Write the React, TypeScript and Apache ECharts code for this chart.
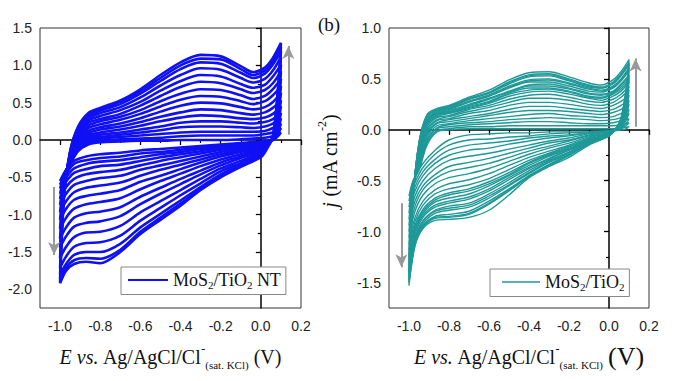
import React, { useEffect, useRef } from "react";
import * as echarts from "echarts";

// potentials (V) of the anodic (forward) and cathodic (reverse) sweep
const potAnodic = [-1.0, -0.98, -0.95, -0.91, -0.86, -0.8, -0.7, -0.6, -0.5, -0.4, -0.3, -0.2, -0.1, -0.04, 0.02, 0.06, 0.1];
const potCathodic = [0.1, 0.085, 0.06, 0.03, 0.0, -0.1, -0.2, -0.3, -0.4, -0.5, -0.6, -0.7, -0.8, -0.87, -0.93, -0.97, -1.0];

// MoS2/TiO2 NT: current density (mA cm-2) of successive cycles
const ntAnodic = [
  [-0.55, -0.45, -0.32, -0.15, -0.06, -0.03, -0.02, -0.01, -0.01, 0.0, 0.0, 0.0, 0.01, 0.02, 0.03, 0.05, 0.1],
  [-0.6, -0.47, -0.31, -0.13, -0.04, -0.01, 0.01, 0.02, 0.03, 0.05, 0.06, 0.06, 0.06, 0.06, 0.08, 0.1, 0.16],
  [-0.65, -0.48, -0.3, -0.12, -0.02, 0.02, 0.04, 0.06, 0.08, 0.1, 0.11, 0.11, 0.11, 0.11, 0.12, 0.16, 0.22],
  [-0.72, -0.5, -0.29, -0.1, 0.01, 0.04, 0.07, 0.1, 0.13, 0.17, 0.18, 0.18, 0.17, 0.16, 0.18, 0.22, 0.29],
  [-0.79, -0.52, -0.28, -0.08, 0.03, 0.07, 0.1, 0.14, 0.18, 0.23, 0.25, 0.25, 0.23, 0.22, 0.24, 0.28, 0.36],
  [-0.87, -0.54, -0.27, -0.05, 0.06, 0.1, 0.14, 0.19, 0.25, 0.3, 0.33, 0.32, 0.29, 0.28, 0.3, 0.35, 0.45],
  [-0.97, -0.56, -0.26, -0.03, 0.09, 0.14, 0.18, 0.24, 0.31, 0.37, 0.41, 0.4, 0.36, 0.34, 0.37, 0.43, 0.53],
  [-1.07, -0.58, -0.25, 0.0, 0.12, 0.17, 0.22, 0.29, 0.38, 0.46, 0.5, 0.49, 0.44, 0.41, 0.44, 0.51, 0.63],
  [-1.19, -0.61, -0.23, 0.02, 0.16, 0.21, 0.27, 0.35, 0.45, 0.54, 0.59, 0.58, 0.52, 0.48, 0.52, 0.6, 0.72],
  [-1.32, -0.63, -0.22, 0.05, 0.19, 0.25, 0.31, 0.4, 0.52, 0.62, 0.68, 0.67, 0.6, 0.55, 0.59, 0.68, 0.82],
  [-1.44, -0.65, -0.2, 0.07, 0.23, 0.28, 0.35, 0.46, 0.59, 0.71, 0.78, 0.76, 0.68, 0.63, 0.67, 0.76, 0.92],
  [-1.58, -0.68, -0.19, 0.1, 0.26, 0.32, 0.4, 0.51, 0.66, 0.79, 0.87, 0.85, 0.75, 0.7, 0.74, 0.85, 1.01],
  [-1.71, -0.7, -0.18, 0.13, 0.29, 0.36, 0.44, 0.57, 0.73, 0.87, 0.96, 0.94, 0.83, 0.77, 0.82, 0.93, 1.11],
  [-1.8, -0.72, -0.17, 0.15, 0.32, 0.39, 0.48, 0.62, 0.79, 0.95, 1.04, 1.02, 0.9, 0.83, 0.89, 1.01, 1.19],
  [-1.87, -0.74, -0.16, 0.17, 0.34, 0.41, 0.51, 0.65, 0.83, 1.0, 1.09, 1.08, 0.95, 0.87, 0.93, 1.06, 1.25],
  [-1.92, -0.75, -0.15, 0.18, 0.36, 0.43, 0.53, 0.68, 0.87, 1.04, 1.14, 1.12, 0.99, 0.91, 0.97, 1.1, 1.3],
];
const ntCathodic = [
  [0.1, 0.05, 0.0, -0.01, -0.02, -0.04, -0.06, -0.08, -0.1, -0.12, -0.14, -0.17, -0.19, -0.22, -0.28, -0.4, -0.55],
  [0.16, 0.08, 0.0, -0.02, -0.03, -0.05, -0.07, -0.1, -0.13, -0.16, -0.18, -0.22, -0.24, -0.27, -0.32, -0.45, -0.6],
  [0.22, 0.11, 0.01, -0.02, -0.04, -0.06, -0.09, -0.12, -0.16, -0.19, -0.23, -0.27, -0.29, -0.32, -0.38, -0.5, -0.65],
  [0.29, 0.14, 0.01, -0.02, -0.05, -0.08, -0.11, -0.15, -0.19, -0.23, -0.28, -0.33, -0.35, -0.39, -0.44, -0.56, -0.72],
  [0.36, 0.18, 0.01, -0.03, -0.06, -0.1, -0.13, -0.18, -0.23, -0.28, -0.34, -0.4, -0.43, -0.46, -0.52, -0.63, -0.79],
  [0.45, 0.22, 0.02, -0.03, -0.07, -0.12, -0.16, -0.22, -0.28, -0.34, -0.4, -0.48, -0.51, -0.55, -0.6, -0.72, -0.87],
  [0.53, 0.26, 0.02, -0.04, -0.08, -0.14, -0.19, -0.26, -0.33, -0.4, -0.48, -0.57, -0.61, -0.64, -0.7, -0.82, -0.97],
  [0.63, 0.31, 0.02, -0.05, -0.09, -0.16, -0.22, -0.3, -0.39, -0.48, -0.56, -0.67, -0.72, -0.75, -0.8, -0.92, -1.07],
  [0.72, 0.36, 0.03, -0.05, -0.11, -0.19, -0.26, -0.35, -0.45, -0.55, -0.66, -0.78, -0.83, -0.86, -0.92, -1.04, -1.19],
  [0.82, 0.41, 0.03, -0.06, -0.13, -0.22, -0.3, -0.41, -0.52, -0.64, -0.76, -0.9, -0.96, -0.98, -1.04, -1.17, -1.32],
  [0.92, 0.46, 0.03, -0.07, -0.14, -0.24, -0.34, -0.46, -0.59, -0.72, -0.86, -1.02, -1.09, -1.11, -1.16, -1.29, -1.44],
  [1.01, 0.5, 0.03, -0.08, -0.16, -0.28, -0.38, -0.52, -0.67, -0.82, -0.97, -1.15, -1.23, -1.24, -1.3, -1.43, -1.58],
  [1.11, 0.56, 0.04, -0.09, -0.18, -0.31, -0.42, -0.58, -0.74, -0.91, -1.08, -1.28, -1.37, -1.38, -1.43, -1.56, -1.71],
  [1.19, 0.6, 0.04, -0.1, -0.2, -0.33, -0.46, -0.63, -0.81, -0.99, -1.17, -1.39, -1.5, -1.5, -1.54, -1.66, -1.8],
  [1.25, 0.64, 0.04, -0.1, -0.21, -0.35, -0.48, -0.66, -0.85, -1.04, -1.23, -1.47, -1.59, -1.58, -1.61, -1.71, -1.87],
  [1.3, 0.68, 0.05, -0.12, -0.23, -0.36, -0.5, -0.67, -0.88, -1.07, -1.26, -1.5, -1.65, -1.63, -1.66, -1.75, -1.92],
];

// MoS2/TiO2: current density (mA cm-2) of successive cycles
const tiAnodic = [
  [-0.65, -0.5, -0.4, -0.15, -0.02, 0.0, 0.01, 0.01, 0.01, 0.01, 0.01, 0.01, 0.01, 0.01, 0.01, 0.02, 0.03],
  [-0.7, -0.51, -0.38, -0.13, -0.01, 0.01, 0.03, 0.03, 0.04, 0.04, 0.04, 0.04, 0.04, 0.04, 0.04, 0.05, 0.07],
  [-0.76, -0.52, -0.37, -0.11, 0.01, 0.03, 0.05, 0.06, 0.07, 0.08, 0.08, 0.07, 0.06, 0.06, 0.07, 0.09, 0.11],
  [-0.82, -0.53, -0.35, -0.09, 0.02, 0.05, 0.07, 0.08, 0.1, 0.11, 0.12, 0.11, 0.1, 0.09, 0.1, 0.12, 0.16],
  [-0.88, -0.55, -0.33, -0.07, 0.04, 0.06, 0.09, 0.11, 0.13, 0.15, 0.16, 0.14, 0.13, 0.12, 0.13, 0.16, 0.2],
  [-0.94, -0.56, -0.31, -0.05, 0.06, 0.08, 0.11, 0.14, 0.17, 0.19, 0.19, 0.18, 0.16, 0.15, 0.17, 0.2, 0.25],
  [-1.0, -0.57, -0.29, -0.03, 0.07, 0.1, 0.13, 0.16, 0.2, 0.23, 0.23, 0.21, 0.19, 0.18, 0.2, 0.24, 0.29],
  [-1.06, -0.58, -0.27, -0.01, 0.09, 0.11, 0.16, 0.19, 0.24, 0.27, 0.27, 0.25, 0.22, 0.21, 0.24, 0.28, 0.34],
  [-1.13, -0.6, -0.25, 0.01, 0.1, 0.13, 0.18, 0.22, 0.27, 0.31, 0.31, 0.29, 0.25, 0.24, 0.27, 0.32, 0.39],
  [-1.18, -0.61, -0.23, 0.03, 0.12, 0.14, 0.2, 0.24, 0.3, 0.34, 0.35, 0.32, 0.28, 0.27, 0.3, 0.35, 0.43],
  [-1.23, -0.62, -0.22, 0.05, 0.13, 0.16, 0.21, 0.26, 0.33, 0.37, 0.38, 0.35, 0.31, 0.29, 0.33, 0.38, 0.47],
  [-1.25, -0.62, -0.21, 0.06, 0.14, 0.17, 0.22, 0.27, 0.35, 0.39, 0.4, 0.37, 0.32, 0.31, 0.35, 0.4, 0.49],
  [-1.28, -0.63, -0.2, 0.07, 0.15, 0.17, 0.23, 0.28, 0.36, 0.41, 0.41, 0.38, 0.33, 0.32, 0.36, 0.42, 0.51],
  [-1.31, -0.63, -0.19, 0.08, 0.16, 0.18, 0.24, 0.3, 0.37, 0.43, 0.43, 0.4, 0.35, 0.34, 0.37, 0.44, 0.53],
  [-1.34, -0.64, -0.18, 0.08, 0.16, 0.19, 0.25, 0.31, 0.38, 0.44, 0.45, 0.41, 0.36, 0.35, 0.38, 0.45, 0.54],
  [-1.38, -0.65, -0.17, 0.1, 0.17, 0.2, 0.27, 0.33, 0.41, 0.47, 0.47, 0.43, 0.38, 0.37, 0.41, 0.48, 0.58],
  [-1.4, -0.65, -0.16, 0.1, 0.18, 0.2, 0.28, 0.34, 0.42, 0.48, 0.49, 0.45, 0.4, 0.38, 0.42, 0.49, 0.6],
  [-1.42, -0.66, -0.15, 0.11, 0.18, 0.21, 0.28, 0.34, 0.43, 0.49, 0.5, 0.46, 0.41, 0.39, 0.43, 0.5, 0.61],
  [-1.46, -0.67, -0.14, 0.13, 0.19, 0.22, 0.3, 0.36, 0.45, 0.52, 0.53, 0.48, 0.42, 0.41, 0.45, 0.53, 0.64],
  [-1.48, -0.67, -0.13, 0.13, 0.2, 0.22, 0.3, 0.36, 0.46, 0.53, 0.54, 0.49, 0.43, 0.41, 0.46, 0.54, 0.65],
  [-1.5, -0.67, -0.13, 0.14, 0.2, 0.23, 0.31, 0.37, 0.47, 0.54, 0.55, 0.5, 0.44, 0.42, 0.47, 0.55, 0.66],
  [-1.53, -0.68, -0.12, 0.15, 0.21, 0.24, 0.32, 0.39, 0.49, 0.56, 0.57, 0.52, 0.46, 0.44, 0.49, 0.57, 0.69],
];
const tiCathodic = [
  [0.03, 0.01, 0.0, -0.01, -0.01, -0.02, -0.02, -0.02, -0.03, -0.03, -0.04, -0.05, -0.1, -0.2, -0.33, -0.48, -0.65],
  [0.07, 0.04, 0.01, 0.0, -0.01, -0.02, -0.03, -0.04, -0.06, -0.07, -0.09, -0.1, -0.15, -0.24, -0.37, -0.52, -0.7],
  [0.11, 0.06, 0.02, 0.0, -0.01, -0.03, -0.05, -0.06, -0.08, -0.11, -0.13, -0.15, -0.2, -0.29, -0.41, -0.56, -0.76],
  [0.16, 0.09, 0.02, 0.0, -0.01, -0.03, -0.06, -0.08, -0.11, -0.14, -0.18, -0.2, -0.25, -0.33, -0.45, -0.6, -0.82],
  [0.2, 0.11, 0.03, 0.0, -0.02, -0.04, -0.08, -0.11, -0.15, -0.19, -0.23, -0.26, -0.3, -0.38, -0.5, -0.65, -0.88],
  [0.25, 0.14, 0.04, 0.0, -0.02, -0.05, -0.1, -0.13, -0.18, -0.23, -0.28, -0.32, -0.36, -0.44, -0.55, -0.7, -0.94],
  [0.29, 0.16, 0.04, 0.0, -0.03, -0.06, -0.11, -0.16, -0.21, -0.27, -0.33, -0.37, -0.41, -0.48, -0.59, -0.75, -1.0],
  [0.34, 0.19, 0.05, 0.0, -0.03, -0.07, -0.13, -0.18, -0.24, -0.31, -0.38, -0.43, -0.47, -0.53, -0.64, -0.8, -1.06],
  [0.39, 0.21, 0.06, 0.0, -0.03, -0.08, -0.15, -0.21, -0.27, -0.35, -0.43, -0.49, -0.53, -0.59, -0.7, -0.86, -1.13],
  [0.43, 0.24, 0.06, 0.0, -0.04, -0.09, -0.16, -0.23, -0.3, -0.39, -0.48, -0.54, -0.58, -0.63, -0.74, -0.9, -1.18],
  [0.47, 0.26, 0.07, 0.0, -0.04, -0.1, -0.17, -0.24, -0.32, -0.42, -0.51, -0.58, -0.62, -0.67, -0.78, -0.94, -1.23],
  [0.49, 0.27, 0.08, 0.0, -0.04, -0.1, -0.18, -0.25, -0.33, -0.44, -0.53, -0.6, -0.64, -0.69, -0.8, -0.96, -1.25],
  [0.51, 0.28, 0.08, 0.0, -0.04, -0.11, -0.19, -0.26, -0.35, -0.45, -0.55, -0.63, -0.67, -0.71, -0.82, -0.98, -1.28],
  [0.53, 0.29, 0.08, 0.0, -0.05, -0.12, -0.2, -0.28, -0.37, -0.47, -0.58, -0.66, -0.7, -0.74, -0.84, -1.0, -1.31],
  [0.54, 0.3, 0.08, 0.0, -0.05, -0.12, -0.2, -0.29, -0.38, -0.49, -0.6, -0.68, -0.72, -0.76, -0.86, -1.03, -1.34],
  [0.58, 0.32, 0.09, 0.0, -0.05, -0.12, -0.22, -0.3, -0.4, -0.52, -0.63, -0.72, -0.75, -0.79, -0.89, -1.06, -1.38],
  [0.6, 0.33, 0.09, 0.0, -0.05, -0.12, -0.22, -0.31, -0.42, -0.54, -0.65, -0.74, -0.77, -0.8, -0.9, -1.08, -1.4],
  [0.61, 0.34, 0.09, 0.0, -0.05, -0.13, -0.23, -0.32, -0.43, -0.55, -0.67, -0.76, -0.79, -0.82, -0.92, -1.09, -1.42],
  [0.64, 0.36, 0.1, 0.0, -0.06, -0.14, -0.24, -0.34, -0.45, -0.58, -0.7, -0.8, -0.83, -0.85, -0.94, -1.11, -1.46],
  [0.65, 0.37, 0.1, 0.0, -0.06, -0.14, -0.25, -0.35, -0.46, -0.59, -0.72, -0.82, -0.85, -0.86, -0.95, -1.12, -1.48],
  [0.66, 0.37, 0.1, 0.0, -0.06, -0.14, -0.25, -0.35, -0.46, -0.6, -0.73, -0.83, -0.86, -0.87, -0.96, -1.13, -1.5],
  [0.69, 0.4, 0.12, 0.0, -0.06, -0.15, -0.27, -0.36, -0.47, -0.64, -0.79, -0.86, -0.88, -0.89, -0.97, -1.14, -1.53],
];

// tick positions
const xMajorTicks = [-1.0, -0.8, -0.6, -0.4, -0.2, 0.0, 0.2];
const xMinorTicks = [-0.9, -0.7, -0.5, -0.3, -0.1, 0.1];
const ntMajorTicks = [-2.0, -1.5, -1.0, -0.5, 0.0, 0.5, 1.0, 1.5];
const ntMinorTicks = [-1.75, -1.25, -0.75, -0.25, 0.25, 0.75, 1.25];
const tiMajorTicks = [-1.5, -1.0, -0.5, 0.0, 0.5, 1.0];
const tiMinorTicks = [-1.25, -0.75, -0.25, 0.25, 0.75];

// scan-direction arrows: [E start, j start, E end, j end]
const ntArrows = [[0.137, 0.07, 0.137, 1.26], [-1.03, -0.63, -1.03, -1.54]];
const tiArrows = [[0.133, 0.03, 0.133, 0.7], [-1.038, -0.72, -1.038, -1.35]];

const NT_NAME = "MoS2/TiO2 NT";
const TI_NAME = "MoS2/TiO2";
const NT_COLOR = "#1010f4";
const TI_COLOR = "#1f9898";

const SERIF = "'Liberation Serif', 'Times New Roman', serif";
const SANS = "'Liberation Sans', Arial, sans-serif";

const subFormatter = (name: string) =>
  name
    .split("2")
    .map((p, i, arr) => (p ? `{a|${p}}` : "") + (i < arr.length - 1 ? "{s|2}" : ""))
    .join("");

const serifRich = (big: number) => ({
  a: { fontFamily: SERIF, fontSize: 20, color: "#111", lineHeight: 27 },
  i: { fontFamily: SERIF, fontSize: 20, fontStyle: "italic", color: "#111", lineHeight: 27 },
  p: { fontFamily: SERIF, fontSize: 12, color: "#111", lineHeight: 12, verticalAlign: "top" },
  s: { fontFamily: SERIF, fontSize: 11, color: "#111", lineHeight: 11, verticalAlign: "bottom" },
  v: { fontFamily: SERIF, fontSize: big, color: "#111", lineHeight: 27 },
});

const buildSeries = (
  name: string,
  color: string,
  anodic: number[][],
  cathodic: number[][],
  axis: number,
  width: number,
  arrows: number[][]
) =>
  anodic.map((up, i) => ({
    type: "line",
    name,
    xAxisIndex: axis,
    yAxisIndex: axis,
    data: potAnodic
      .map((e, k) => [e, up[k]])
      .concat(potCathodic.map((e, k) => [e, cathodic[i][k]])),
    smooth: 0.3,
    symbol: "none",
    showSymbol: false,
    silent: true,
    clip: true,
    lineStyle: { color, width },
    itemStyle: { color },
    markLine:
      i === 0
        ? {
            silent: true,
            symbol: ["none", "arrow"],
            symbolSize: [9, 13],
            label: { show: false },
            lineStyle: { color: "#999", width: 2, type: "solid" },
            data: arrows.map((a) => [{ coord: [a[0], a[1]] }, { coord: [a[2], a[3]] }]),
          }
        : undefined,
  }));

const majorX = (grid: number) => ({
  type: "value",
  gridIndex: grid,
  min: -1.1,
  max: 0.2,
  axisLine: { show: true, lineStyle: { color: "#000", width: 1.5 } },
  axisTick: { show: true, customValues: xMajorTicks, length: 5, lineStyle: { color: "#000", width: 1.3 } },
  axisLabel: {
    customValues: xMajorTicks,
    formatter: (v: number) => v.toFixed(1),
    fontFamily: SANS,
    fontSize: 14,
    color: "#222",
    margin: 11,
  },
  splitLine: { show: false },
});
const minorX = (grid: number) => ({
  type: "value",
  gridIndex: grid,
  min: -1.1,
  max: 0.2,
  position: "bottom",
  axisLine: { show: false },
  axisTick: { show: true, customValues: xMinorTicks, length: 3, lineStyle: { color: "#000", width: 1.2 } },
  axisLabel: { show: false },
  splitLine: { show: false },
});
const majorY = (grid: number, min: number, max: number, ticks: number[]) => ({
  type: "value",
  gridIndex: grid,
  min,
  max,
  axisLine: { show: true, lineStyle: { color: "#000", width: 1.5 } },
  axisTick: { show: true, customValues: ticks, length: 5, lineStyle: { color: "#000", width: 1.3 } },
  axisLabel: {
    customValues: ticks,
    formatter: (v: number) => v.toFixed(1),
    fontFamily: SANS,
    fontSize: 14,
    color: "#222",
    margin: 8,
  },
  splitLine: { show: false },
});
const minorY = (grid: number, min: number, max: number, ticks: number[]) => ({
  type: "value",
  gridIndex: grid,
  min,
  max,
  position: "left",
  axisLine: { show: false },
  axisTick: { show: true, customValues: ticks, length: 3, lineStyle: { color: "#000", width: 1.2 } },
  axisLabel: { show: false },
  splitLine: { show: false },
});

const legendBox = (name: string, left: number, top: number, padLeft: number, itemWidth: number, color: string, lw: number) => ({
  data: [{ name, icon: "rect", itemStyle: { color } }],
  left,
  top,
  orient: "horizontal",
  padding: [4, 5, 4, padLeft],
  itemWidth,
  itemHeight: lw,
  borderColor: "#888",
  borderWidth: 1,
  backgroundColor: "#fff",
  selectedMode: false,
  formatter: subFormatter,
  textStyle: {
    rich: {
      a: { fontFamily: SERIF, fontSize: 18, color: "#111", lineHeight: 21 },
      s: { fontFamily: SERIF, fontSize: 11, color: "#111", lineHeight: 11, verticalAlign: "bottom" },
    },
  },
});

export default function App() {
  const ref = useRef<HTMLDivElement>(null);
  useEffect(() => {
    if (!ref.current) return;
    const chart = echarts.init(ref.current, undefined, { renderer: "svg" });
    const xName = (v: string) => `{i|E vs.}{a| Ag/AgCl/Cl}{p|-}{s|(sat. KCl)}{a| }${v}`;
    const xA0 = { ...majorX(0), name: xName("{a|(V)}"), nameLocation: "middle", nameGap: 35, nameTextStyle: { rich: serifRich(20) } };
    const xA2 = { ...majorX(1), name: xName("{v|(V)}"), nameLocation: "middle", nameGap: 35, nameTextStyle: { rich: serifRich(26), padding: [0, 0, 0, 20] } };
    const yA2 = {
      ...majorY(1, -1.75, 1.0, tiMajorTicks),
      name: "{i|j}{a| (mA cm}{p|-2}{a|)}",
      nameLocation: "middle",
      nameRotate: 90,
      nameGap: 46,
      nameTextStyle: { rich: serifRich(20), padding: [0, 0, 0, 14] },
    };
    chart.setOption({
      animation: false,
      backgroundColor: "#fff",
      grid: [
        { left: 40, top: 28, width: 261, height: 280, show: true, borderColor: "#333", borderWidth: 1, backgroundColor: "transparent" },
        { left: 389, top: 28, width: 260, height: 280, show: true, borderColor: "#333", borderWidth: 1, backgroundColor: "transparent" },
      ],
      xAxis: [xA0, minorX(0), xA2, minorX(1)],
      yAxis: [
        majorY(0, -2.25, 1.5, ntMajorTicks),
        minorY(0, -2.25, 1.5, ntMinorTicks),
        yA2,
        minorY(1, -1.75, 1.0, tiMinorTicks),
      ],
      legend: [
        legendBox(NT_NAME, 121, 267, 7, 40, NT_COLOR, 2),
        legendBox(TI_NAME, 490, 269, 12, 38, TI_COLOR, 1.5),
      ],
      graphic: [
        {
          type: "text",
          left: 318,
          top: 15,
          style: { text: "(b)", fontFamily: SERIF, fontSize: 19, fill: "#111" },
        },
      ],
      series: [
        ...buildSeries(NT_NAME, NT_COLOR, ntAnodic, ntCathodic, 0, 2.6, ntArrows),
        ...buildSeries(TI_NAME, TI_COLOR, tiAnodic, tiCathodic, 2, 1.4, tiArrows),
      ],
    });
    return () => chart.dispose();
  }, []);
  return <div ref={ref} style={{ position: "fixed", left: 0, top: 0, width: 678, height: 381 }} />;
}
